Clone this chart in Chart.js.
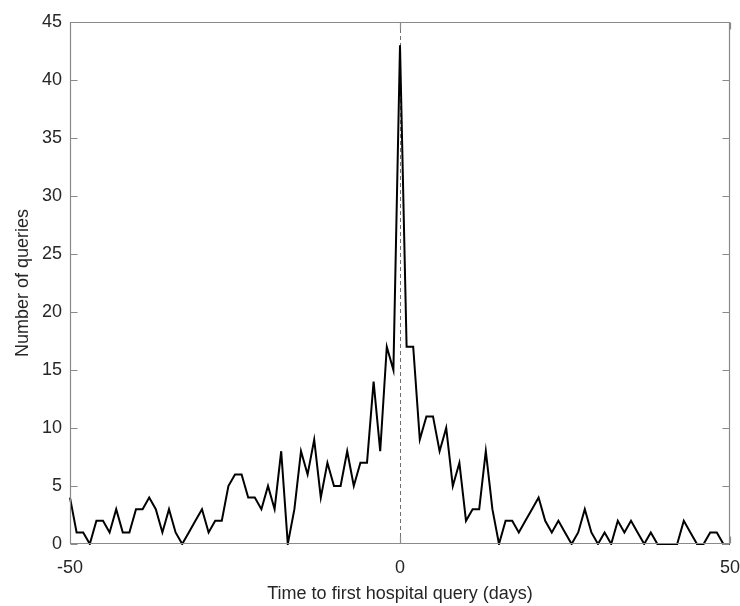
<!DOCTYPE html>
<html>
<head>
<meta charset="utf-8">
<script src="https://cdn.jsdelivr.net/npm/chart.js@4/dist/chart.umd.min.js"></script>
<style>
  html, body { margin: 0; padding: 0; background: #fff; }
  canvas { display: block; }
</style>
</head>
<body>
<canvas id="chart1" width="740" height="606"></canvas>
<script>
'use strict';

// days relative to first hospital query, -50 .. 50
var days = [];
for (var d = -50; d <= 50; d++) { days.push(d); }

// number of queries per day
var queries = [
  4, 1, 1, 0, 2, 2, 1, 3, 1, 1,        // -50 .. -41
  3, 3, 4, 3, 1, 3, 1, 0, 1, 2,        // -40 .. -31
  3, 1, 2, 2, 5, 6, 6, 4, 4, 3,        // -30 .. -21
  5, 3, 8, 0, 3, 8, 6, 9, 4, 7,        // -20 .. -11
  5, 5, 8, 5, 7, 7, 14, 8, 17, 15,     // -10 .. -1
  43,                                  // 0
  17, 17, 9, 11, 11, 8, 10, 5, 7, 2,   // 1 .. 10
  3, 3, 8, 3, 0, 2, 2, 1, 2, 3,        // 11 .. 20
  4, 2, 1, 2, 1, 0, 1, 3, 1, 0,        // 21 .. 30
  1, 0, 2, 1, 2, 1, 0, 1, 0, 0,        // 31 .. 40
  0, 0, 2, 1, 0, 0, 1, 1, 0, 0         // 41 .. 50
];

var xTicks = [-50, 0, 50];
var yTicks = [0, 5, 10, 15, 20, 25, 30, 35, 40, 45];

var axisColor = '#8a8a8a';
var textColor = '#262626';
var fontFamily = '"Liberation Sans", Arial, Helvetica, sans-serif';

// frame, inward ticks and the dashed marker at day 0
var matlabAxes = {
  id: 'matlabAxes',
  beforeDatasetsDraw: function (chart) {
    var ctx = chart.ctx;
    var a = chart.chartArea;
    var x0 = chart.scales.x.getPixelForValue(0);
    ctx.save();
    ctx.strokeStyle = '#6e6e6e';
    ctx.lineWidth = 1;
    ctx.setLineDash([4, 3]);
    ctx.beginPath();
    ctx.moveTo(Math.round(x0) + 0.5, a.top);
    ctx.lineTo(Math.round(x0) + 0.5, a.bottom);
    ctx.stroke();
    ctx.restore();
  },
  afterDraw: function (chart) {
    var ctx = chart.ctx;
    var a = chart.chartArea;
    var xs = chart.scales.x;
    var ys = chart.scales.y;
    var tl = 7;
    var l = Math.round(a.left) + 0.5, r = Math.round(a.right) - 0.5;
    var t = Math.round(a.top) + 0.5, b = Math.round(a.bottom) - 0.5;
    ctx.save();
    ctx.strokeStyle = axisColor;
    ctx.lineWidth = 1.2;
    ctx.beginPath();
    ctx.rect(l, t, r - l, b - t);
    yTicks.forEach(function (v) {
      var py = Math.round(ys.getPixelForValue(v)) + 0.5;
      ctx.moveTo(l, py); ctx.lineTo(l + tl, py);
      ctx.moveTo(r, py); ctx.lineTo(r - tl, py);
    });
    xTicks.forEach(function (v) {
      var px = Math.round(xs.getPixelForValue(v)) + 0.5;
      ctx.moveTo(px, b); ctx.lineTo(px, b - tl);
      ctx.moveTo(px, t); ctx.lineTo(px, t + tl);
    });
    ctx.stroke();
    ctx.restore();
  }
};

var points = days.map(function (d, i) { return { x: d, y: queries[i] }; });

new Chart(document.getElementById('chart1').getContext('2d'), {
  type: 'line',
  data: {
    datasets: [{
      data: points,
      borderColor: '#000',
      borderWidth: 2,
      pointRadius: 0,
      tension: 0,
      fill: false,
      clip: { left: 4, top: 4, right: 4, bottom: 1 }
    }]
  },
  options: {
    responsive: false,
    animation: false,
    devicePixelRatio: 1,
    layout: { padding: { top: 22, right: 10, left: 0, bottom: 0 } },
    plugins: { legend: { display: false }, tooltip: { enabled: false } },
    scales: {
      x: {
        type: 'linear',
        min: -50,
        max: 50,
        afterBuildTicks: function (s) { s.ticks = xTicks.map(function (v) { return { value: v }; }); },
        afterFit: function (s) { s.height = 62; s.paddingLeft = 0; s.paddingRight = 0; },
        grid: { display: false, drawTicks: false },
        border: { display: false },
        ticks: { color: textColor, font: { family: fontFamily, size: 18 }, padding: 13, maxRotation: 0 },
        title: {
          display: true,
          text: 'Time to first hospital query (days)',
          color: textColor,
          font: { family: fontFamily, size: 18 },
          padding: { top: 0, bottom: 1 }
        }
      },
      y: {
        min: 0,
        max: 45,
        afterBuildTicks: function (s) { s.ticks = yTicks.map(function (v) { return { value: v }; }); },
        afterFit: function (s) { s.width = 70; s.paddingTop = 0; s.paddingBottom = 0; },
        grid: { display: false, drawTicks: false },
        border: { display: false },
        ticks: { color: textColor, font: { family: fontFamily, size: 18 }, padding: 8 },
        title: {
          display: true,
          text: 'Number of queries',
          color: textColor,
          font: { family: fontFamily, size: 18 },
          padding: { top: 12, bottom: 0 }
        }
      }
    }
  },
  plugins: [matlabAxes]
});
</script>
</body>
</html>
